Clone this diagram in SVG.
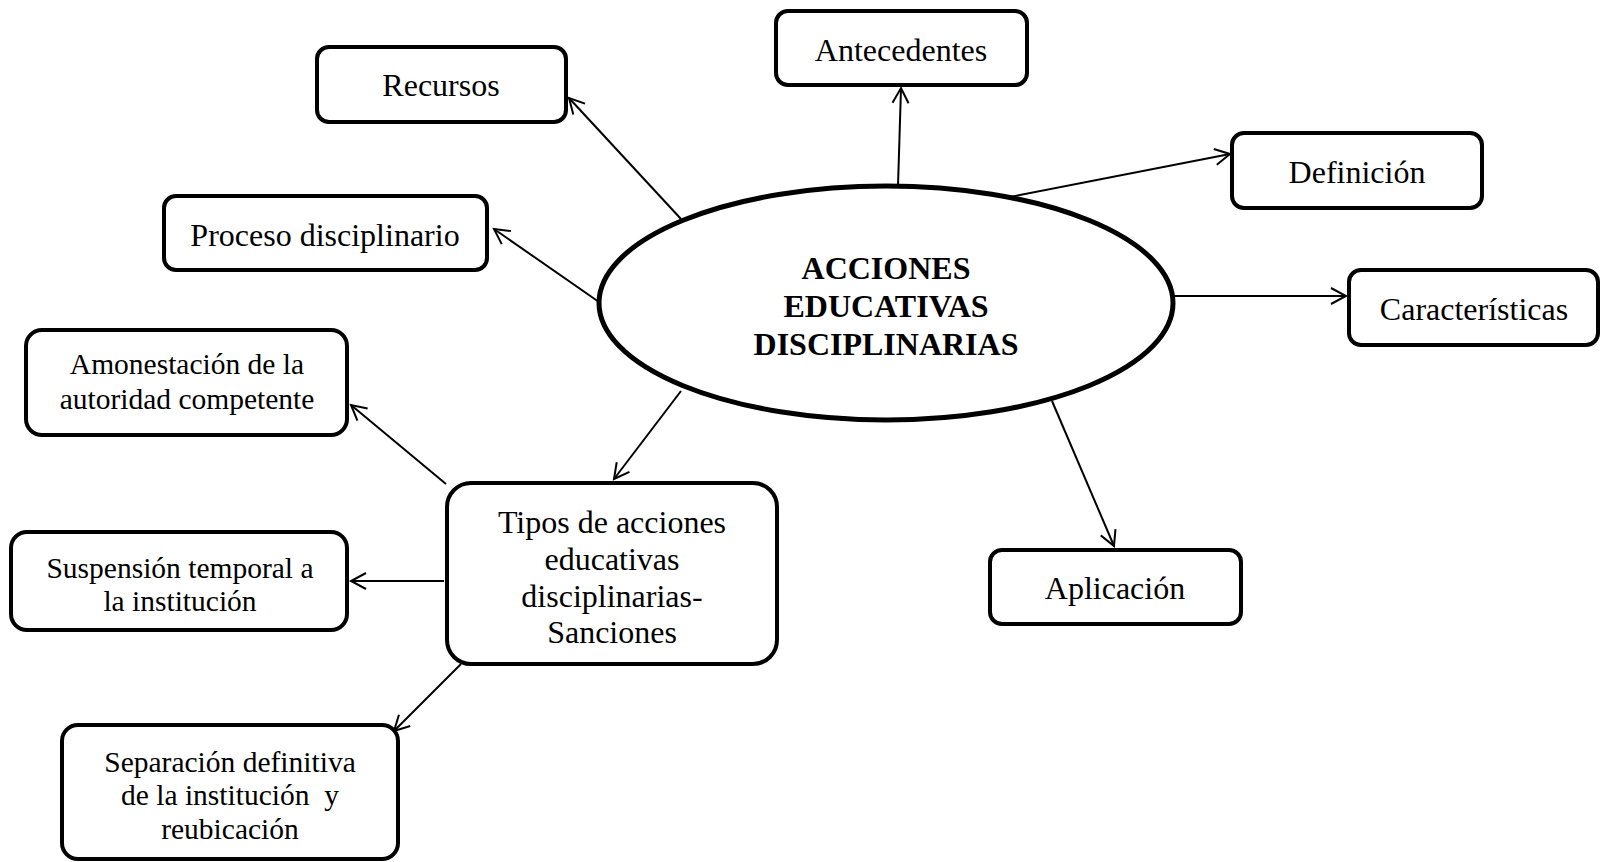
<svg xmlns="http://www.w3.org/2000/svg" width="1600" height="862" viewBox="0 0 1600 862">
<defs>
<style>
.box{fill:#fff;stroke:#000;stroke-width:4}
.t{font-family:"Liberation Serif","Times New Roman",serif;font-size:32px;fill:#000;text-anchor:middle;dominant-baseline:central}
.s{font-size:29.5px}
.b{font-weight:bold;font-size:32px}
.c{stroke:#000;stroke-width:2;fill:none;marker-end:url(#ah)}
</style>
<marker id="ah" markerUnits="userSpaceOnUse" markerWidth="20" markerHeight="20" viewBox="-16 -10 20 20" refX="0" refY="0" orient="auto">
<path d="M-15,-8 L0,0 L-15,8" fill="none" stroke="#000" stroke-width="2"/>
</marker>
</defs>
<rect width="1600" height="862" fill="#fff"/>
<g id="connectors">
<line class="c" x1="898" y1="186" x2="901" y2="88"/>
<line class="c" x1="681" y1="219" x2="569" y2="98"/>
<line class="c" x1="1010" y1="197" x2="1230" y2="154"/>
<line class="c" x1="599" y1="302" x2="494" y2="229"/>
<line class="c" x1="1173" y1="296" x2="1346" y2="296"/>
<line class="c" x1="681" y1="391" x2="614" y2="479"/>
<line class="c" x1="1052" y1="401" x2="1114" y2="546"/>
<line class="c" x1="446" y1="484" x2="351" y2="405"/>
<line class="c" x1="444" y1="581" x2="351" y2="581"/>
<line class="c" x1="461" y1="664" x2="394" y2="731"/>
</g>
<g id="center">
<ellipse cx="886" cy="303" rx="287" ry="117" fill="#fff" stroke="#000" stroke-width="5"/>
<text class="t b" x="886" y="268">ACCIONES</text>
<text class="t b" x="886" y="306">EDUCATIVAS</text>
<text class="t b" x="886" y="344">DISCIPLINARIAS</text>
</g>
<g id="antecedentes">
<rect class="box" x="776" y="11" width="251" height="74" rx="12"/>
<text class="t" x="901" y="50">Antecedentes</text>
</g>
<g id="recursos">
<rect class="box" x="317" y="47" width="249" height="75" rx="12"/>
<text class="t" x="441" y="85">Recursos</text>
</g>
<g id="definicion">
<rect class="box" x="1232" y="133" width="250" height="75" rx="12"/>
<text class="t" x="1357" y="172">Definición</text>
</g>
<g id="proceso">
<rect class="box" x="164" y="196" width="323" height="74" rx="12"/>
<text class="t" x="325" y="235">Proceso disciplinario</text>
</g>
<g id="caracteristicas">
<rect class="box" x="1349" y="270" width="249" height="75" rx="12"/>
<text class="t" x="1474" y="309">Características</text>
</g>
<g id="aplicacion">
<rect class="box" x="990" y="550" width="251" height="74" rx="12"/>
<text class="t" x="1115" y="588">Aplicación</text>
</g>
<g id="tipos">
<rect class="box" x="447" y="483" width="330" height="181" rx="24"/>
<text class="t" x="612" y="522">Tipos de acciones</text>
<text class="t" x="612" y="559">educativas</text>
<text class="t" x="612" y="596">disciplinarias-</text>
<text class="t" x="612" y="632">Sanciones</text>
</g>
<g id="amonestacion">
<rect class="box" x="26" y="330" width="321" height="105" rx="16"/>
<text class="t s" x="187" y="364">Amonestación de la</text>
<text class="t s" x="187" y="399">autoridad competente</text>
</g>
<g id="suspension">
<rect class="box" x="11" y="532" width="336" height="98" rx="16"/>
<text class="t s" x="180" y="568">Suspensión temporal a</text>
<text class="t s" x="180" y="601">la institución</text>
</g>
<g id="separacion">
<rect class="box" x="62" y="725" width="336" height="134" rx="16"/>
<text class="t s" x="230" y="762">Separación definitiva</text>
<text class="t s" x="230" y="795" xml:space="preserve">de la institución  y</text>
<text class="t s" x="230" y="829">reubicación</text>
</g>
</svg>
